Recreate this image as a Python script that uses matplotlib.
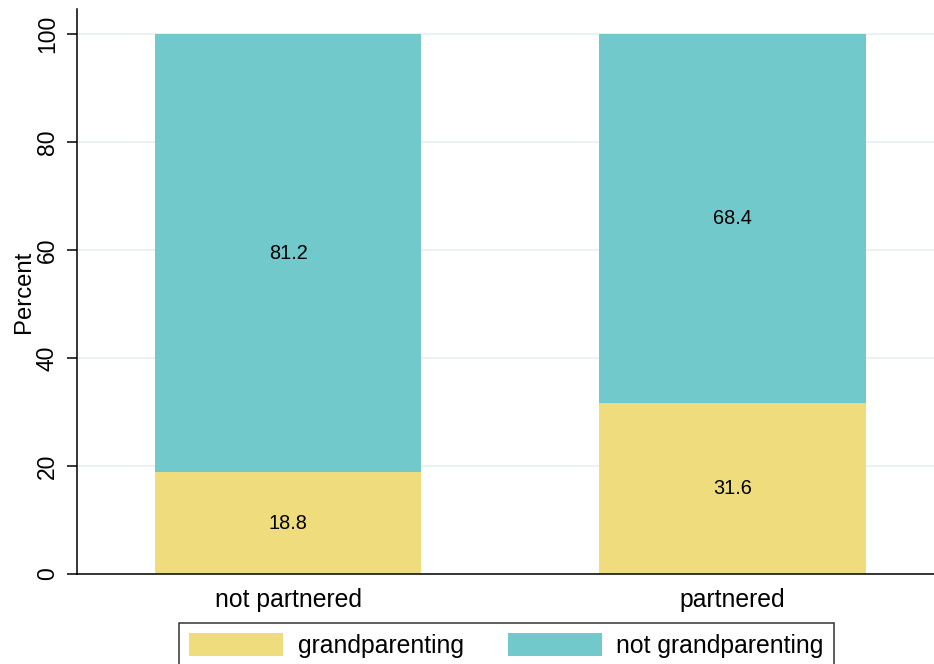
import matplotlib
matplotlib.use("Agg")
import matplotlib.pyplot as plt
import numpy as np

plt.rcParams["font.family"] = ["Liberation Sans", "DejaVu Sans"]

# data
groups = ["not partnered", "partnered"]
grandparenting = [18.8, 31.6]
not_grandparenting = [81.2, 68.4]
series_names = ["grandparenting", "not grandparenting"]
colors = ["#EFDC7C", "#72C9CB"]

fig = plt.figure(figsize=(9.34, 6.64), dpi=100)
ax = fig.add_axes([77 / 934, 1 - 574 / 664, 1 - 77 / 934, (574 - 9) / 664])

x = np.arange(len(groups))
b1 = ax.bar(x, grandparenting, width=0.6, color=colors[0], label=series_names[0], zorder=2)
b2 = ax.bar(x, not_grandparenting, width=0.6, bottom=grandparenting,
            color=colors[1], label=series_names[1], zorder=2)

ax.bar_label(b1, labels=[f"{v:.1f}" for v in grandparenting], label_type="center", fontsize=14.3)
ax.bar_label(b2, labels=[f"{v:.1f}" for v in not_grandparenting], label_type="center", fontsize=14.3)

ax.set_xlim(-0.475, 1.453)
ax.set_ylim(0, 104.6)
ax.set_yticks([0, 20, 40, 60, 80, 100])
ax.set_xticks(x)
ax.set_xticklabels(groups, fontsize=17.8)
ax.tick_params(axis="x", length=0, pad=10)
ax.tick_params(axis="y", length=7, width=1.1, pad=6, labelsize=16.5, labelrotation=90)
for lab in ax.get_yticklabels():
    lab.set_va("center")

ax.set_ylabel("Percent", fontsize=17.2, labelpad=1)

ax.grid(axis="y", color="#EAF2F3", linewidth=1.5, zorder=0)
ax.set_axisbelow(True)
for side in ["top", "right"]:
    ax.spines[side].set_visible(False)
for side in ["left", "bottom"]:
    ax.spines[side].set_linewidth(1.1)

leg = fig.legend(
    loc="upper left",
    bbox_to_anchor=(179 / 934, 1 - 623 / 664),
    ncol=2,
    fontsize=17.8,
    frameon=True,
    fancybox=False,
    edgecolor="black",
    handlelength=3.8,
    handleheight=1.09,
    handletextpad=0.6,
    columnspacing=1.78,
    borderpad=0.4,
    borderaxespad=0,
)
leg.get_frame().set_linewidth(1.1)

fig.savefig("out.png", dpi=100)
plt.close()
